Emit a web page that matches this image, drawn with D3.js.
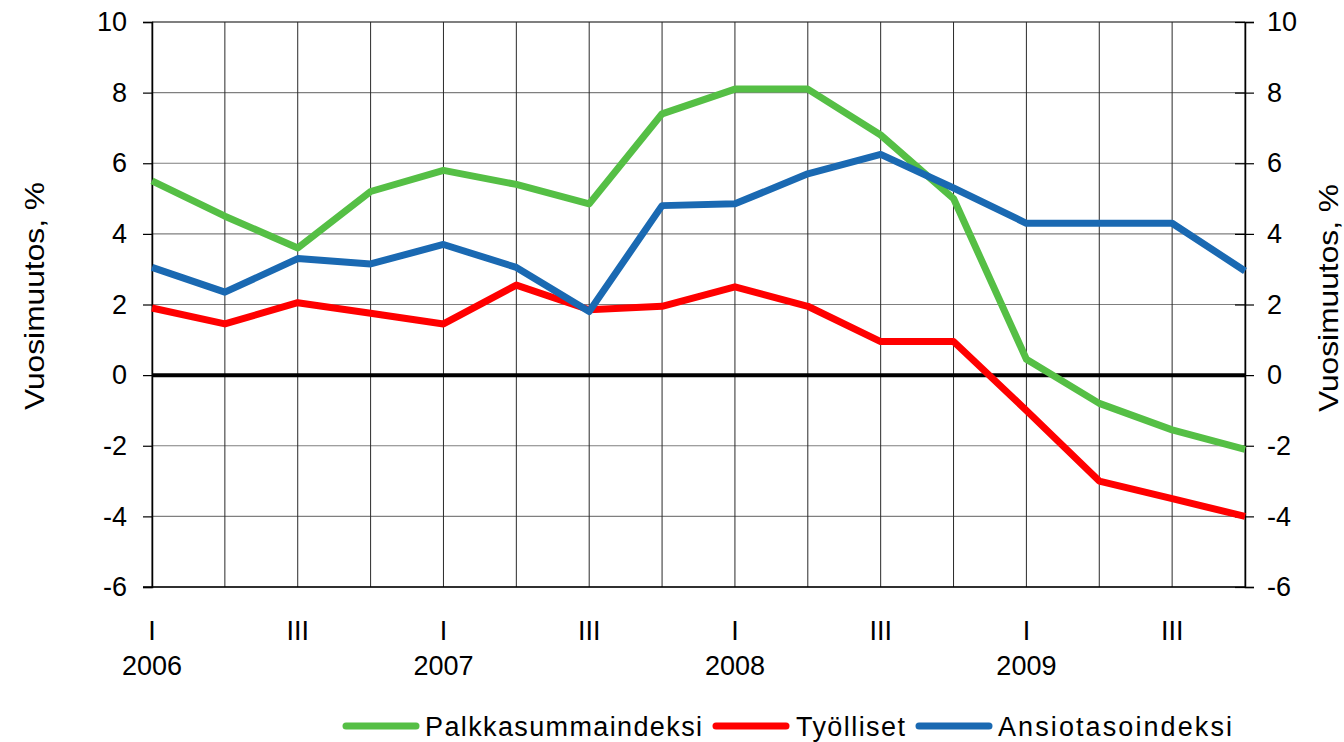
<!DOCTYPE html>
<html>
<head>
<meta charset="utf-8">
<script src="https://cdn.jsdelivr.net/npm/d3@7"></script>
<style>
  html, body { margin: 0; padding: 0; background: #fff; }
  svg { display: block; font-family: "Liberation Sans", Arial, sans-serif; }
</style>
</head>
<body>
<svg id="chart" width="1344" height="742"></svg>
<script>
// ---- data ----
const years = ["2006", "2007", "2008", "2009"];
const quarters = ["I", "II", "III", "IV"];
const categories = years.flatMap(yr => quarters.map(q => yr + " " + q));
const shownQuarterLabels = ["I", "III"];
const yTicks = [-6, -4, -2, 0, 2, 4, 6, 8, 10];

const seriesNames = ["Palkkasummaindeksi", "Työlliset", "Ansiotasoindeksi"];
const palkkasumma = [5.5, 4.5, 3.6, 5.2, 5.8, 5.4, 4.85, 7.4, 8.1, 8.1, 6.8, 5.0, 0.45, -0.8, -1.55, -2.1];
const tyolliset   = [1.9, 1.45, 2.05, 1.75, 1.45, 2.55, 1.85, 1.95, 2.5, 1.95, 0.95, 0.95, -1.0, -3.0, -3.5, -4.0];
const ansiotaso   = [3.05, 2.35, 3.3, 3.15, 3.7, 3.05, 1.8, 4.8, 4.85, 5.7, 6.25, 5.3, 4.3, 4.3, 4.3, 2.95];
const seriesColors = ["#55bf45", "#ff0000", "#1a69b2"];

const yTitle = "Vuosimuutos, %";

// ---- layout ----
const svg = d3.select("#chart");
const pLeft = 152, pRight = 1245, pTop = 22, pBottom = 587;

const x = d3.scalePoint().domain(categories).range([pLeft, pRight]);
const y = d3.scaleLinear().domain([-6, 10]).range([pBottom, pTop]);

// horizontal gridlines
svg.append("g").selectAll("line").data(yTicks.filter(v => v !== 0)).join("line")
  .attr("x1", pLeft).attr("x2", pRight)
  .attr("y1", d => y(d)).attr("y2", d => y(d))
  .attr("stroke", d => d === 10 ? "#000" : "#7f7f7f").attr("stroke-width", 1.2);

// vertical gridlines
svg.append("g").selectAll("line").data(categories).join("line")
  .attr("x1", d => x(d)).attr("x2", d => x(d))
  .attr("y1", pTop).attr("y2", pBottom)
  .attr("stroke", "#2a2a2a").attr("stroke-width", 1);

// left axis
const axL = svg.append("g").attr("transform", `translate(${pLeft},0)`)
  .call(d3.axisLeft(y).tickValues(yTicks).tickSize(9).tickPadding(16).tickFormat(d3.format("d")));
axL.select(".domain").attr("stroke", "#000").attr("stroke-width", 1.5);
axL.selectAll(".tick line").attr("stroke", "#000").attr("stroke-width", 1.2);
axL.selectAll("text").attr("font-size", 27).attr("fill", "#000")
  .attr("font-family", "Liberation Sans, Arial, sans-serif").text(d => d < 0 ? "-" + Math.abs(d) : d);

// right axis
const axR = svg.append("g").attr("transform", `translate(${pRight},0)`)
  .call(d3.axisRight(y).tickValues(yTicks).tickSize(9).tickPadding(13).tickFormat(d3.format("d")));
axR.select(".domain").attr("stroke", "#000").attr("stroke-width", 1.5);
axR.selectAll(".tick line").attr("stroke", "#000").attr("stroke-width", 1.2).attr("x1", -10);
axR.selectAll("text").attr("font-size", 27).attr("fill", "#000")
  .attr("font-family", "Liberation Sans, Arial, sans-serif").text(d => d < 0 ? "-" + Math.abs(d) : d);

// bottom axis line
svg.append("line").attr("x1", pLeft - 9).attr("x2", pRight)
  .attr("y1", pBottom).attr("y2", pBottom).attr("stroke", "#000").attr("stroke-width", 1.5);

// x labels: quarters
svg.append("g").selectAll("text")
  .data(categories.filter(c => shownQuarterLabels.includes(c.split(" ")[1]))).join("text")
  .attr("x", d => x(d)).attr("y", 640)
  .attr("text-anchor", "middle").attr("font-size", 27).attr("fill", "#000")
  .text(d => d.split(" ")[1]);

// x labels: years
svg.append("g").selectAll("text").data(years).join("text")
  .attr("x", d => x(d + " I")).attr("y", 675)
  .attr("text-anchor", "middle").attr("font-size", 27).attr("fill", "#000")
  .text(d => d);

// zero line
svg.append("line").attr("x1", pLeft).attr("x2", pRight)
  .attr("y1", y(0)).attr("y2", y(0)).attr("stroke", "#000").attr("stroke-width", 4);

// series lines
const allSeries = [palkkasumma, tyolliset, ansiotaso];
const lineGen = d3.line().x((d, i) => x(categories[i])).y(d => y(d));
svg.append("g").selectAll("path").data(allSeries).join("path")
  .attr("d", lineGen)
  .attr("fill", "none")
  .attr("stroke", (d, i) => seriesColors[i])
  .attr("stroke-width", 7)
  .attr("stroke-linejoin", "round");

// axis titles
svg.append("text").attr("transform", "translate(44,296) rotate(-90)")
  .attr("text-anchor", "middle").attr("font-size", 28).attr("fill", "#000")
  .attr("textLength", 228).attr("lengthAdjust", "spacingAndGlyphs")
  .text(yTitle);
svg.append("text").attr("transform", "translate(1338,298) rotate(-90)")
  .attr("text-anchor", "middle").attr("font-size", 28).attr("fill", "#000")
  .attr("textLength", 228).attr("lengthAdjust", "spacingAndGlyphs")
  .text(yTitle);

// legend
const legendItems = [
  { lx1: 343, lx2: 419, tx: 425, tw: 277 },
  { lx1: 713, lx2: 789, tx: 796, tw: 109 },
  { lx1: 916, lx2: 992, tx: 998, tw: 234 }
];
const lg = svg.append("g");
legendItems.forEach((it, i) => {
  lg.append("line").attr("x1", it.lx1 + 3).attr("x2", it.lx2 - 3)
    .attr("y1", 726).attr("y2", 726)
    .attr("stroke", seriesColors[i]).attr("stroke-width", 7).attr("stroke-linecap", "round");
  lg.append("text").attr("x", it.tx).attr("y", 736)
    .attr("font-size", 27).attr("fill", "#000")
    .attr("textLength", it.tw).attr("lengthAdjust", "spacing")
    .text(seriesNames[i]);
});
</script>
</body>
</html>
